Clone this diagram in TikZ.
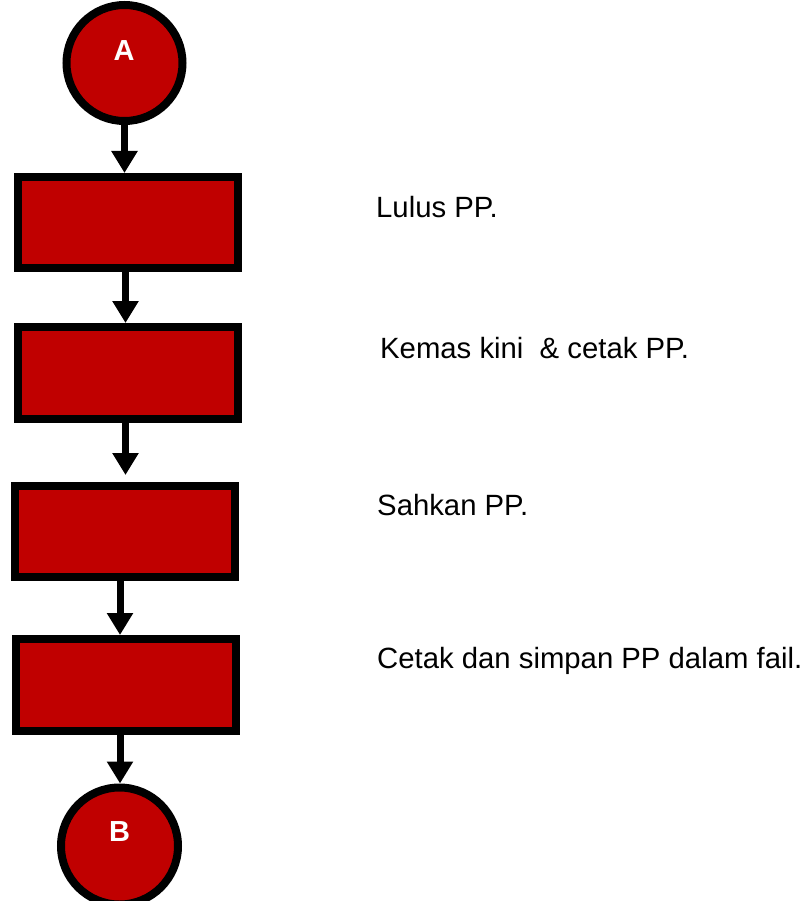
\documentclass[tikz,border=0pt]{standalone}
\usepackage{fontspec}
\setmainfont{Liberation Sans}
\usetikzlibrary{arrows.meta}
\definecolor{boxred}{RGB}{192,0,0}
\begin{document}
\begin{tikzpicture}[x=1pt,y=-1pt,
  stepbox/.style={draw=black,fill=boxred,line width=8pt,minimum width=220pt,inner sep=0pt},
  endcircle/.style={circle,draw=black,fill=boxred,line width=8pt,minimum size=116pt,inner sep=0pt},
  lettertext/.style={text=white,font=\fontsize{29pt}{33pt}\selectfont\bfseries},
  desc/.style={anchor=base west,inner sep=0pt,font=\fontsize{29.3pt}{33pt}\selectfont},
  flow/.style={line width=7pt,-{Triangle[width=25pt,length=22pt]}}]
\useasboundingbox (0,0) rectangle (806,901);
\begin{scope}
\clip (0,0) rectangle (806,901);
\node[endcircle] (A) at (124.5,63) {};
\node[lettertext] (Al) at (124,51) {A};
\node[stepbox,minimum height=91pt] (b1) at (128,222.5) {};
\node[stepbox,minimum height=92pt] (b2) at (128,373) {};
\node[stepbox,minimum height=91pt] (b3) at (125,531.5) {};
\node[stepbox,minimum height=92pt] (b4) at (125.5,685) {};
\node[endcircle,minimum size=117pt] (B) at (119.5,846) {};
\node[lettertext] (Bl) at (119.5,832) {B};
\end{scope}
\coordinate (c1) at (124.5,0);
\coordinate (c2) at (125.5,0);
\coordinate (c3) at (125.5,0);
\coordinate (c4) at (120,0);
\coordinate (c5) at (120,0);
\draw[flow] (c1|-A.south) -- (c1|-b1.north);
\draw[flow] (c2|-b1.south) -- (c2|-b2.north);
\draw[flow,shorten >=7pt] (c3|-b2.south) -- (c3|-b3.north);
\draw[flow] (c4|-b3.south) -- (c4|-b4.north);
\draw[flow] (c5|-b4.south) -- (c5|-B.north);
\node[desc] (t1) at (376,218) {Lulus PP.};
\node[desc] (t2) at (380,358) {Kemas kini\ \ \& cetak PP.};
\node[desc] (t3) at (377,515) {Sahkan PP.};
\node[desc] (t4) at (377,668) {Cetak dan simpan PP dalam fail.};
\end{tikzpicture}
\end{document}
